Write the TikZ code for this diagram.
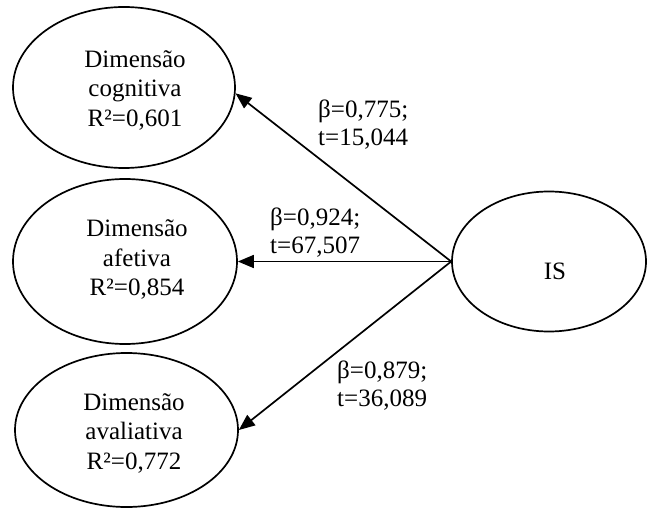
\documentclass[tikz,border=0pt]{standalone}
\usepackage{fontspec}
\setmainfont{Liberation Serif}
\usetikzlibrary{shapes.geometric,arrows.meta}
\begin{document}
\begin{tikzpicture}[x=1pt,y=-1pt,
  latent/.style={draw,ellipse,line width=1.7pt,inner sep=0pt},
  caption/.style={align=center,font=\fontsize{25}{29.5}\selectfont,inner sep=0pt},
  coef/.style={align=left,font=\fontsize{25}{28}\selectfont,inner sep=0pt,anchor=north west},
  effect/.style={line width=1.7pt,-{Triangle[length=16pt,width=13pt]}}]
\useasboundingbox (0,0) rectangle (648,508);

% latent constructs
\node[latent,minimum width=222pt,minimum height=161pt] (dc) at (124,87.5) {};
\node[latent,minimum width=224pt,minimum height=165pt] (da) at (125,261.5) {};
\node[latent,minimum width=223pt,minimum height=154pt] (dv) at (126.5,430) {};
\node[latent,minimum width=194pt,minimum height=140pt] (is) at (549,261.5) {};

% construct names
\node[caption] (dct) at (135,90.5) {Dimensão\\cognitiva\\R²=0,601};
\node[caption] (dat) at (137,259.5) {Dimensão\\afetiva\\R²=0,854};
\node[caption] (dvt) at (134,433) {Dimensão\\avaliativa\\R²=0,772};
\node[caption] (ist) at (555,271) {IS};

% structural paths
\draw[effect] (is.west) -- (dc.-3);
\draw[effect] (is.west) -- (da.east);
\draw[effect] (is.west) -- (dv.east);

% path coefficients
\node[coef] (l1) at (318,100) {β=0,775;\\t=15,044};
\node[coef] (l2) at (270,208) {β=0,924;\\t=67,507};
\node[coef] (l3) at (337,361) {β=0,879;\\t=36,089};
\end{tikzpicture}
\end{document}
